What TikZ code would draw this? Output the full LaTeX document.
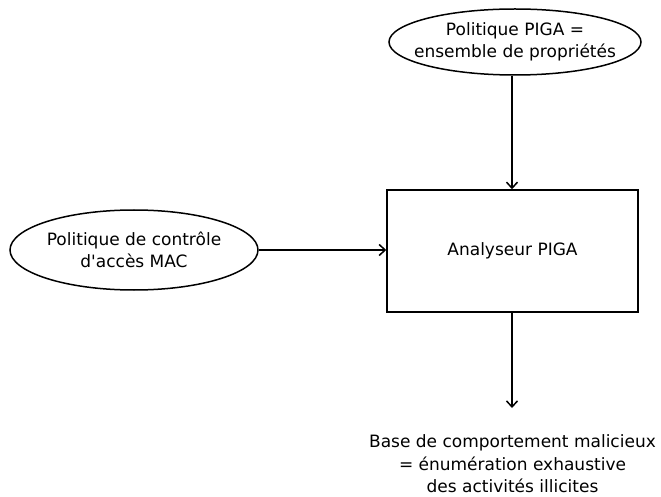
\documentclass[tikz,border=0pt]{standalone}
\usepackage{fontspec}
\setmainfont{DejaVu Sans}[Ligatures=TeXOff]
\usetikzlibrary{shapes.geometric,arrows.meta}
\begin{document}
\begin{tikzpicture}[x=1pt,y=1pt,
  every node/.style={font=\fontsize{17}{22.5}\selectfont, align=center},
  oval/.style={draw, ellipse, line width=1.5pt, inner sep=0pt},
  boxnode/.style={draw, rectangle, line width=1.5pt, inner sep=0pt},
  flow/.style={line width=1.5pt, -{Straight Barb[length=6pt,width=11pt,line width=1.5pt]}}]
\useasboundingbox (0,0) rectangle (661,496);
% input: the PIGA policy (outline and text kept apart so the outline keeps its size)
\node[oval, minimum width=252pt, minimum height=66pt] (piga) at (515,454) {};
\node (pigatext) at (piga.center) {Politique PIGA =\\ensemble de propriétés};
% input: the MAC access control policy
\node[oval, minimum width=248pt, minimum height=80pt] (mac) at (134,246) {};
\node (mactext) at (mac.center) {Politique de contrôle\\d'accès MAC};
% the analyser
\node[boxnode, minimum width=251pt, minimum height=122pt] (ana) at (512.5,245) {Analyseur PIGA};
% output
\coordinate (out) at (512,88);
\node (base) at (512.5,32) {Base de comportement malicieux\\= énumération exhaustive\\des activités illicites};
\draw[flow] (piga.south -| out) -- (ana.north -| out);
\draw[flow] (mac.east) -- (mac.east -| ana.west);
\draw[flow] (ana.south -| out) -- (out);
\end{tikzpicture}
\end{document}
